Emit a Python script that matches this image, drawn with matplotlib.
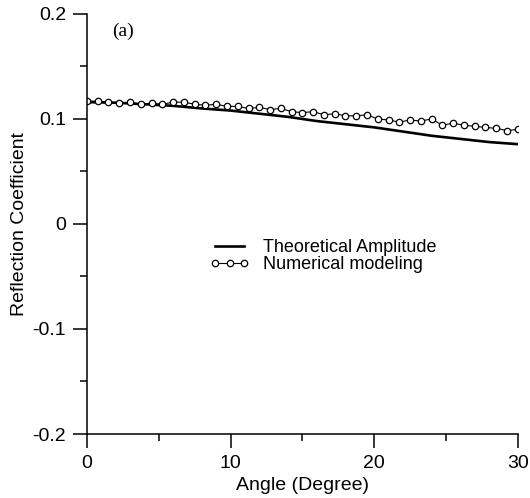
import matplotlib
matplotlib.use("Agg")
import matplotlib.pyplot as plt
from matplotlib.ticker import MultipleLocator

plt.rcParams['font.family'] = ['Liberation Sans', 'DejaVu Sans']

# Theoretical amplitude curve
theory_angle = [0, 2, 4, 6, 8, 10, 12, 14, 16, 18, 20, 22, 24, 26, 28, 30]
theory_refl = [0.116, 0.1155, 0.114, 0.1125, 0.110, 0.108, 0.105, 0.102,
               0.098, 0.095, 0.092, 0.088, 0.084, 0.081, 0.078, 0.076]

# Numerical modeling points
num_angle = [0, 0.75, 1.5, 2.25, 3.0, 3.75, 4.5, 5.25, 6.0, 6.75, 7.5, 8.25,
             9.0, 9.75, 10.5, 11.25, 12.0, 12.75, 13.5, 14.25, 15.0, 15.75,
             16.5, 17.25, 18.0, 18.75, 19.5, 20.25, 21.0, 21.75, 22.5, 23.25,
             24.0, 24.75, 25.5, 26.25, 27.0, 27.75, 28.5, 29.25, 30.0]
num_refl = [0.117, 0.117, 0.116, 0.115, 0.116, 0.114, 0.115, 0.114, 0.116,
            0.116, 0.114, 0.113, 0.114, 0.112, 0.112, 0.110, 0.111, 0.109,
            0.110, 0.107, 0.106, 0.107, 0.104, 0.105, 0.103, 0.103, 0.104,
            0.100, 0.099, 0.097, 0.099, 0.098, 0.100, 0.094, 0.096, 0.094,
            0.093, 0.092, 0.091, 0.089, 0.090]

x_ticks = [0, 10, 20, 30]
y_ticks = [-0.2, -0.1, 0, 0.1, 0.2]
y_tick_labels = ['-0.2', '-0.1', '0', '0.1', '0.2']

fig = plt.figure(figsize=(5.30, 4.98), dpi=100)
ax = fig.add_axes([0.164, 0.1285, 0.813, 0.8435])

ax.plot(theory_angle, theory_refl, color='black', lw=1.9,
        label='Theoretical Amplitude')
ax.plot(num_angle, num_refl, color='black', lw=0.8, marker='o', ms=4.6,
        mfc='white', mec='black', mew=0.9, label='Numerical modeling')

ax.set_xlim(0, 30)
ax.set_ylim(-0.2, 0.2)
ax.set_xticks(x_ticks)
ax.set_yticks(y_ticks)
ax.set_yticklabels(y_tick_labels)
ax.xaxis.set_minor_locator(MultipleLocator(5))
ax.yaxis.set_minor_locator(MultipleLocator(0.05))

for s in ['top', 'right']:
    ax.spines[s].set_visible(False)
for s in ['left', 'bottom']:
    ax.spines[s].set_linewidth(1.1)

ax.tick_params(which='major', direction='out', length=10, width=1.1,
               labelsize=14, pad=5)
ax.tick_params(which='minor', direction='out', length=5, width=1.1)

ax.set_xlabel('Angle (Degree)', fontsize=14, labelpad=4)
ax.set_ylabel('Reflection Coefficient', fontsize=14, labelpad=3)

ax.text(0.058, 0.978, '(a)', transform=ax.transAxes, fontsize=14,
        family=['Liberation Serif', 'DejaVu Serif'], va='top', ha='left')

ax.legend(loc='center left', bbox_to_anchor=(0.285, 0.424), frameon=False,
          fontsize=13, handlelength=2.2, handletextpad=0.75, borderpad=0,
          borderaxespad=0, labelspacing=0.0, numpoints=3)

fig.savefig('out.png', dpi=100)
